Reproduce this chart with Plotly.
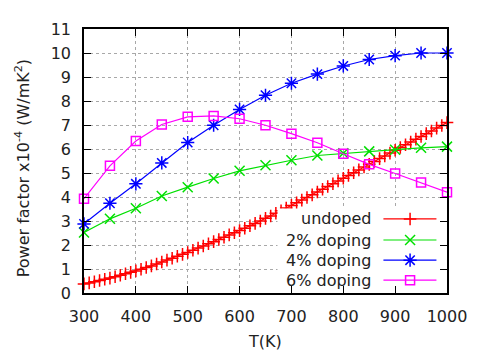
import plotly.graph_objects as go

# ---------------- data ----------------
T_undoped = list(range(300, 1001, 10))
pf_undoped = [0.38, 0.42, 0.47, 0.52, 0.57, 0.62, 0.68, 0.74, 0.80, 0.86,
              0.92, 0.99, 1.06, 1.13, 1.21, 1.29, 1.37, 1.45, 1.53, 1.61,
              1.69, 1.78, 1.87, 1.96, 2.05, 2.14, 2.23, 2.32, 2.42, 2.51,
              2.60, 2.70, 2.80, 2.90, 3.00, 3.11, 3.21, 3.32, 3.43, 3.54,
              3.65, 3.76, 3.87, 3.98, 4.09, 4.21, 4.32, 4.44, 4.55, 4.67,
              4.78, 4.90, 5.01, 5.13, 5.25, 5.36, 5.48, 5.60, 5.71, 5.83,
              5.95, 6.06, 6.18, 6.29, 6.41, 6.52, 6.64, 6.75, 6.87, 6.98,
              7.10]
T_doped = [300, 350, 400, 450, 500, 550, 600, 650, 700, 750, 800, 850, 900, 950, 1000]
pf_2 = [2.52, 3.09, 3.53, 4.04, 4.41, 4.77, 5.09, 5.32, 5.53, 5.73, 5.82, 5.90, 5.97, 6.05, 6.10]
pf_4 = [2.88, 3.74, 4.55, 5.42, 6.27, 6.99, 7.65, 8.24, 8.74, 9.12, 9.46, 9.73, 9.89, 10.0, 10.0]
pf_6 = [3.93, 5.30, 6.33, 7.02, 7.34, 7.38, 7.26, 6.99, 6.64, 6.26, 5.80, 5.36, 4.98, 4.60, 4.20]

series_names = ["undoped", "2% doping", "4% doping", "6% doping"]
series_colors = ["#ff0000", "#00e000", "#0000ff", "#ff00ff"]
series_symbols = ["cross-thin", "x-thin", "asterisk", "square-open"]
series_sizes = [9, 10, 11, 9]

x_ticks = [300, 400, 500, 600, 700, 800, 900, 1000]
y_ticks = list(range(0, 12))

# ---------------- layout constants (window pixels) ----------------
OFF = 8  # page body margin
W, H = 479 - OFF, 352 - OFF
L, R, T, B = 84, 451.7, 22, 292.6  # plot area in window pixels
FONT = "DejaVu Sans"


def px_x(p):
    return (p - L) / (R - L)


def px_y(p):
    return (B - p) / (B - T)


fig = go.Figure()

xs = [T_undoped, T_doped, T_doped, T_doped]
ys = [pf_undoped, pf_2, pf_4, pf_6]
for name, x, y, c, s, sz in zip(series_names, xs, ys, series_colors, series_symbols, series_sizes):
    fig.add_trace(go.Scatter(
        x=x, y=y, mode="lines+markers", name=name, showlegend=False,
        line=dict(color=c, width=1.2),
        marker=dict(symbol=s, size=sz, color=c, line=dict(color=c, width=1.5)),
        cliponaxis=False,
    ))

# ---------------- gnuplot style key (overlay axes in 0..1 of plot area) ----------------
box_l, box_r, box_t, box_b = px_x(280), px_x(450.5), px_y(206), px_y(291.5)
fig.add_trace(go.Scatter(
    x=[box_l, box_r, box_r, box_l, box_l], y=[box_b, box_b, box_t, box_t, box_b],
    xaxis="x2", yaxis="y2", mode="lines", fill="toself", fillcolor="white",
    line=dict(width=0, color="white"), showlegend=False, hoverinfo="skip",
))
row_y = [216.7, 238.3, 259.0, 279.5]
for name, c, s, sz, ry in zip(series_names, series_colors, series_symbols, series_sizes, row_y):
    fig.add_trace(go.Scatter(
        x=[px_x(387.3), px_x(441)], y=[px_y(ry), px_y(ry)], xaxis="x2", yaxis="y2",
        mode="lines", line=dict(color=c, width=1.2), showlegend=False, hoverinfo="skip",
    ))
    fig.add_trace(go.Scatter(
        x=[px_x(414.3)], y=[px_y(ry)], xaxis="x2", yaxis="y2", mode="markers",
        marker=dict(symbol=s, size=sz, color=c, line=dict(color=c, width=1.5)),
        showlegend=False, hoverinfo="skip",
    ))
    fig.add_annotation(
        x=px_x(377), y=px_y(ry), xref="paper", yref="paper", text=name,
        showarrow=False, xanchor="right", yanchor="middle",
        font=dict(family=FONT, size=16, color="#222222"),
    )

# axis titles
fig.add_annotation(
    x=px_x(267.5), y=px_y(342), xref="paper", yref="paper", text="T(K)",
    showarrow=False, xanchor="center", yanchor="middle",
    font=dict(family=FONT, size=16, color="#222222"),
)
fig.add_annotation(
    x=px_x(22), y=px_y(165), xref="paper", yref="paper",
    text="Power factor x10<sup>-4</sup> (W/mK<sup>2</sup>)",
    showarrow=False, xanchor="center", yanchor="middle", textangle=-90,
    font=dict(family=FONT, size=16, color="#222222"),
)

axis_common = dict(
    showline=True, linecolor="black", linewidth=1.5, mirror="ticks",
    ticks="inside", ticklen=7, tickwidth=1, tickcolor="black",
    showgrid=True, gridcolor="#a8a8a8", griddash="dot", gridwidth=1,
    zeroline=False, tickfont=dict(family=FONT, size=16, color="#222222"),
)
fig.update_layout(
    width=W, height=H,
    margin=dict(l=L - OFF, r=479 - R, t=T - OFF, b=352 - B, pad=0),
    paper_bgcolor="white", plot_bgcolor="white",
    xaxis=dict(range=[300, 1000], tickvals=x_ticks, ticklabelstandoff=8, **axis_common),
    yaxis=dict(range=[0, 11], tickvals=y_ticks, ticklabelstandoff=8, **axis_common),
    xaxis2=dict(range=[0, 1], overlaying="x", visible=False, fixedrange=True),
    yaxis2=dict(range=[0, 1], overlaying="y", visible=False, fixedrange=True),
    showlegend=False,
)

fig.write_html("out.html")
